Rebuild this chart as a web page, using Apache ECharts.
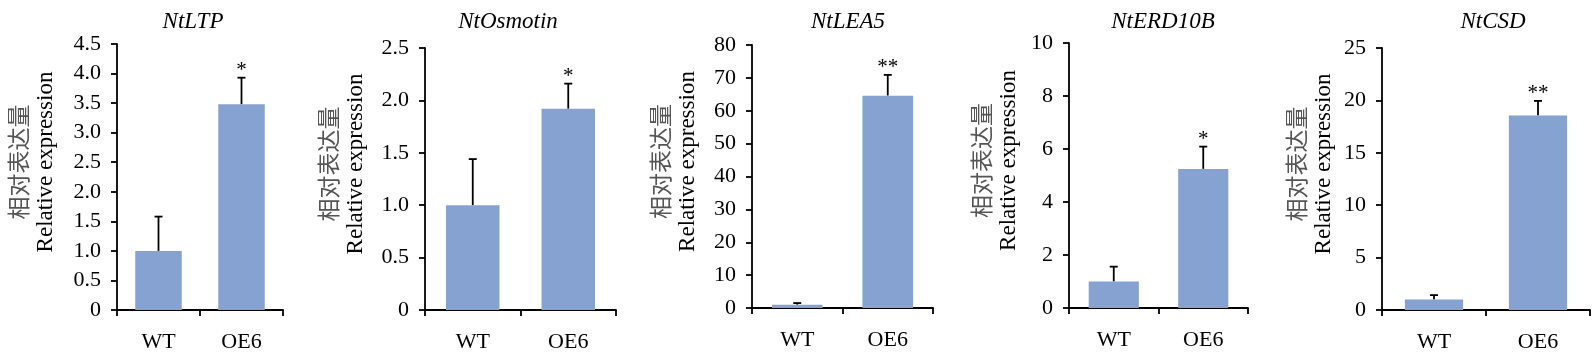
<!DOCTYPE html>
<html>
<head>
<meta charset="utf-8">
<script src="https://cdn.jsdelivr.net/npm/echarts@6/dist/echarts.min.js"></script>
<style>
  html, body { margin: 0; padding: 0; background: #fff; }
  #chart { width: 1595px; height: 354px; }
</style>
</head>
<body>
<div id="chart"></div>
<script>
const categories = ["WT", "OE6"];
const genes = ["NtLTP", "NtOsmotin", "NtLEA5", "NtERD10B", "NtCSD"];

// mean and standard deviation per gene (WT, OE6)
const meanLTP = [1.0, 3.48];
const sdLTP = [0.58, 0.45];
const meanOsmotin = [1.0, 1.92];
const sdOsmotin = [0.44, 0.24];
const meanLEA5 = [1.0, 64.6];
const sdLEA5 = [0.5, 6.3];
const meanERD10B = [1.0, 5.25];
const sdERD10B = [0.56, 0.84];
const meanCSD = [1.0, 18.55];
const sdCSD = [0.42, 1.4];

const sigLTP = ["", "*"];
const sigOsmotin = ["", "*"];
const sigLEA5 = ["", "**"];
const sigERD10B = ["", "*"];
const sigCSD = ["", "**"];

// y axis ranges (max, interval)
const yMax = [4.5, 2.5, 80, 10, 25];
const yStep = [0.5, 0.5, 10, 2, 5];

const means = [meanLTP, meanOsmotin, meanLEA5, meanERD10B, meanCSD];
const sds = [sdLTP, sdOsmotin, sdLEA5, sdERD10B, sdCSD];
const sigs = [sigLTP, sigOsmotin, sigLEA5, sigERD10B, sigCSD];

// layout of each panel
const panels = [
  { left: 117, width: 166, top: 44, height: 266, titleX: 188, nameGap: 58 },
  { left: 425, width: 191, top: 48, height: 262, titleX: 503, nameGap: 56 },
  { left: 752, width: 181, top: 45, height: 263, titleX: 843, nameGap: 51 },
  { left: 1069, width: 179, top: 43, height: 265, titleX: 1158, nameGap: 47 },
  { left: 1382, width: 208, top: 48, height: 262, titleX: 1488, nameGap: 45 },
];

const SERIF = "'Liberation Serif', serif";
const CJK = "'Noto Sans CJK SC', sans-serif";

const grid = [], xAxis = [], yAxis = [], series = [], title = [];

panels.forEach((p, i) => {
  grid.push({ left: p.left, top: p.top, width: p.width, height: p.height });
  title.push({
    text: genes[i],
    left: p.titleX,
    top: 5,
    textAlign: "center",
    textStyle: { fontFamily: SERIF, fontStyle: "italic", fontWeight: "normal", fontSize: 23, color: "#000" },
  });
  xAxis.push({
    type: "category",
    gridIndex: i,
    data: categories,
    axisLine: { lineStyle: { color: "#000", width: 1.8 } },
    axisTick: { show: true, length: 6, lineStyle: { color: "#000", width: 1.8 } },
    axisLabel: { color: "#000", fontFamily: SERIF, fontSize: 22, margin: 21 },
  });
  yAxis.push({
    type: "value",
    gridIndex: i,
    min: 0,
    max: yMax[i],
    interval: yStep[i],
    name: "{cn|相对表达量}\n{en|Relative expression}",
    nameLocation: "middle",
    nameRotate: 90,
    nameGap: p.nameGap,
    nameTextStyle: {
      color: "#000",
      padding: [0, 0, 0, 30],
      rich: {
        cn: { fontFamily: CJK, fontSize: 23, lineHeight: 27, color: "#555" },
        en: { fontFamily: SERIF, fontSize: 23, lineHeight: 27, color: "#000" },
      },
    },
    axisLine: { show: true, lineStyle: { color: "#000", width: 1.8 } },
    axisTick: { show: true, length: 6, lineStyle: { color: "#000", width: 1.8 } },
    splitLine: { show: false },
    axisLabel: {
      color: "#000",
      fontFamily: SERIF,
      fontSize: 22,
      margin: 16,
      showMinLabel: true,
      showMaxLabel: true,
      hideOverlap: false,
      formatter: (v) => (v === 0 ? "0" : (yStep[i] < 1 ? v.toFixed(1) : String(v))),
    },
  });
  series.push({
    type: "bar",
    xAxisIndex: i,
    yAxisIndex: i,
    barWidth: "56%",
    data: means[i],
    itemStyle: { color: "#86A2D0" },
    silent: true,
    animation: false,
  });
  series.push({
    type: "custom",
    xAxisIndex: i,
    yAxisIndex: i,
    animation: false,
    silent: true,
    data: means[i].map((m, k) => [k, m, m + sds[i][k], k]),
    renderItem: (params, api) => {
      const k = api.value(0);
      const base = api.coord([k, api.value(1)]);
      const top = api.coord([k, api.value(2)]);
      const sig = sigs[i][api.value(3)];
      return {
        type: "group",
        children: [
          { type: "line", shape: { x1: base[0], y1: base[1], x2: top[0], y2: top[1] }, style: { stroke: "#000", lineWidth: 1.8 } },
          { type: "line", shape: { x1: top[0] - 4, y1: top[1], x2: top[0] + 4, y2: top[1] }, style: { stroke: "#000", lineWidth: 1.8 } },
          {
            type: "text",
            style: {
              text: sig,
              x: top[0],
              y: top[1] + 3,
              align: "center",
              verticalAlign: "bottom",
              fontFamily: SERIF,
              fontSize: 21,
              fill: "#000",
            },
          },
        ],
      };
    },
  });
});

const myChart = echarts.init(document.getElementById("chart"));
myChart.setOption({ animation: false, title, grid, xAxis, yAxis, series });
</script>
</body>
</html>
